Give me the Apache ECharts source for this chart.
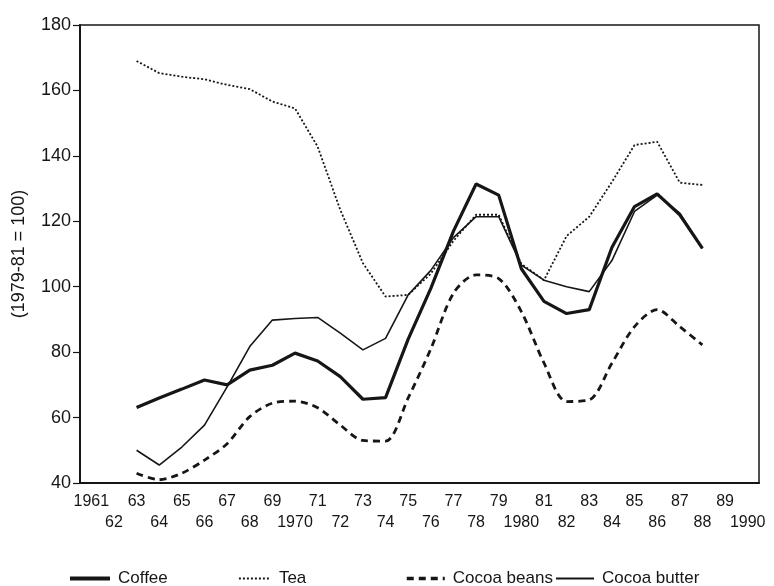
<!DOCTYPE html>
<html>
<head>
<meta charset="utf-8">
<script src="https://cdn.jsdelivr.net/npm/echarts@6/dist/echarts.min.js"></script>
<style>html,body{margin:0;padding:0;background:#fff}#c{width:774px;height:586px}</style>
</head>
<body>
<div id="c"></div>
<script>
var years = [];
for (var y = 1961; y <= 1990; y++) years.push(String(y));

// values for 1963..1988 (1961, 1962, 1989, 1990 have no data)
var coffee = [null, null, 63.1, 66, 68.7, 71.5, 70, 74.5, 76, 79.7, 77.3, 72.5, 65.6, 66.1, 84, 99.5, 117, 131.4, 128, 105.5, 95.5, 91.8, 93, 112, 124.5, 128.4, 122, 111.7, null, null];
var tea = [null, null, 169, 165.3, 164.2, 163.4, 161.7, 160.4, 156.6, 154.5, 142.8, 123.5, 107.2, 97, 97.5, 104, 114, 122, 122, 107, 102, 115.5, 121.4, 132, 143.3, 144.3, 131.8, 131.1, null, null];
var cocoaBeans = [null, null, 43, 41, 43, 47, 52, 60.3, 64.4, 65, 63, 57.7, 53, 52.8, 66, 81, 98, 103.6, 102.5, 92.4, 76.7, 64.9, 65.4, 76.6, 87.8, 93, 87.8, 82.2, null, null];
var cocoaButter = [null, null, 50, 45.5, 51, 57.7, 69.4, 81.7, 89.8, 90.3, 90.6, 85.8, 80.7, 84.2, 97.5, 105, 115, 121.4, 121.4, 106.6, 102, 100, 98.5, 108, 123, 128, 122.5, 111.7, null, null];
var yTicks = [40, 60, 80, 100, 120, 140, 160, 180];

var FONT = "'Liberation Sans', Arial, sans-serif";
var INK = '#161616';
var NOFILL = 'rgba(0,0,0,0)';

function xLabel(v) {
  var n = parseInt(v, 10);
  var t = (n === 1961 || n % 10 === 0) ? String(n) : String(n).slice(2);
  return (n % 2 === 0) ? '\n' + t : t;
}

var chart = echarts.init(document.getElementById('c'), null, {renderer: 'canvas'});
function legendAt(name, left, w, lw) {
  return {
    data: [name], left: left, top: 565, itemWidth: w, itemHeight: 14,
    lineStyle: {width: lw},
    textStyle: {fontFamily: FONT, fontSize: 17, color: INK, padding: [0, 0, 0, 3]},
    selectedMode: false
  };
}
function lineSeries(name, data, lw, dash, smooth) {
  return {
    name: name, type: 'line', data: data, symbol: 'circle', showSymbol: false, symbolSize: 0,
    smooth: smooth || false,
    lineStyle: {color: INK, width: lw, type: dash || 'solid'},
    itemStyle: {color: NOFILL, borderColor: NOFILL},
    emphasis: {disabled: true}
  };
}
chart.setOption({
  animation: false,
  backgroundColor: '#fff',
  grid: {left: 80, right: 15, top: 25, bottom: 103, show: true, borderColor: INK, borderWidth: 1.5},
  legend: [
    legendAt('Coffee', 63, 40, 4),
    legendAt('Tea', 233, 32, 1.8),
    legendAt('Cocoa beans', 400, 38, 3.5),
    legendAt('Cocoa butter', 550, 38, 2)
  ],
  xAxis: {
    type: 'category', data: years, boundaryGap: true,
    axisLine: {lineStyle: {color: INK, width: 2}},
    axisTick: {alignWithLabel: true, length: 5, lineStyle: {color: INK, width: 1.2}},
    axisLabel: {interval: 0, formatter: xLabel, fontFamily: FONT, fontSize: 16, color: INK, lineHeight: 21, margin: 8},
    splitLine: {show: false}
  },
  yAxis: {
    type: 'value', min: 40, max: 180, interval: 20,
    name: '(1979-81 = 100)', nameLocation: 'middle', nameGap: 52, nameRotate: 90,
    nameTextStyle: {fontFamily: FONT, fontSize: 18, color: INK},
    axisLine: {show: true, lineStyle: {color: INK, width: 2}},
    axisTick: {show: true, length: 7, lineStyle: {color: INK, width: 1.2}},
    axisLabel: {fontFamily: FONT, fontSize: 18, color: INK, margin: 9,
      formatter: function (v) { return yTicks.indexOf(v) >= 0 ? String(v) : ''; }},
    splitLine: {show: false}
  },
  series: [
    lineSeries('Coffee', coffee, 3.2),
    lineSeries('Tea', tea, 1.8, [2, 2]),
    lineSeries('Cocoa beans', cocoaBeans, 2.8, [7, 5], 0.3),
    lineSeries('Cocoa butter', cocoaButter, 1.6)
  ]
});
</script>
</body>
</html>
